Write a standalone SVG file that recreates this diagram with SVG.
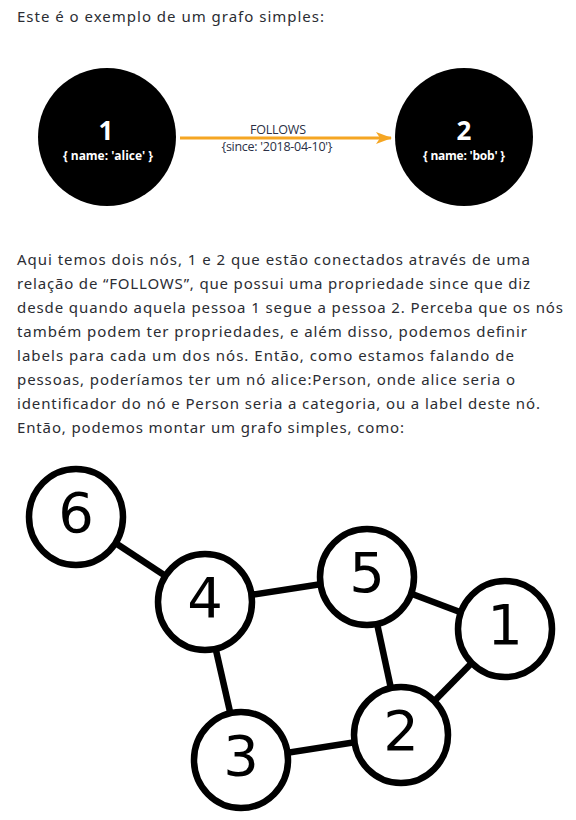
<svg xmlns="http://www.w3.org/2000/svg" width="576" height="820" viewBox="0 0 576 820">
<defs>
<style>
.p{font-family:"Noto Sans","Open Sans",sans-serif;font-size:15px;fill:#2b2d33;}
.bn{fill:#000;}
.bd{font-family:"Open Sans","Noto Sans",sans-serif;font-weight:bold;fill:#fff;text-anchor:middle;}
.lbl{font-family:"Open Sans","Noto Sans",sans-serif;fill:#2a2f45;text-anchor:middle;font-size:12.5px;}
.wn{fill:#fff;stroke:#000;stroke-width:6.5;}
.dg{font-family:"DejaVu Sans",sans-serif;font-size:56px;fill:#000;text-anchor:middle;}
.e{stroke:#000;stroke-width:6.5;}
</style>
<marker id="ah" viewBox="0 0 16 12" refX="15" refY="6" markerWidth="16" markerHeight="12" markerUnits="userSpaceOnUse" orient="auto">
<path d="M0,0 L16,6 L0,12 L4,6 Z" fill="#F5A623"/>
</marker>
</defs>
<rect width="576" height="820" fill="#fff"/>
<text class="p" x="17" y="22" textLength="307">Este é o exemplo de um grafo simples:</text>

<g id="connectors-top">
<line x1="180" y1="138" x2="391" y2="138" stroke="#F5A623" stroke-width="3" marker-end="url(#ah)"/>
<text class="lbl" x="278" y="134" textLength="56">FOLLOWS</text>
<text class="lbl" x="277" y="151" textLength="111">{since: '2018-04-10'}</text>
</g>
<g id="top-node-1">
<circle class="bn" cx="107" cy="137" r="69"/>
<text class="bd" x="106" y="140" font-size="26">1</text>
<text class="bd" x="108" y="160" font-size="12" textLength="90">{ name: 'alice' }</text>
</g>
<g id="top-node-2">
<circle class="bn" cx="464" cy="137" r="69"/>
<text class="bd" x="464" y="140" font-size="26">2</text>
<text class="bd" x="464" y="160" font-size="12" textLength="82">{ name: 'bob' }</text>
</g>

<g id="paragraph">
<text class="p" x="17" y="265" textLength="513">Aqui temos dois nós, 1 e 2 que estão conectados através de uma</text>
<text class="p" x="17" y="289" textLength="513">relação de “FOLLOWS”, que possui uma propriedade since que diz</text>
<text class="p" x="17" y="313" textLength="546">desde quando aquela pessoa 1 segue a pessoa 2. Perceba que os nós</text>
<text class="p" x="17" y="337" textLength="510">também podem ter propriedades, e além disso, podemos definir</text>
<text class="p" x="17" y="361" textLength="497">labels para cada um dos nós. Então, como estamos falando de</text>
<text class="p" x="17" y="385" textLength="498">pessoas, poderíamos ter um nó alice:Person, onde alice seria o</text>
<text class="p" x="17" y="409" textLength="523">identificador do nó e Person seria a categoria, ou a label deste nó.</text>
<text class="p" x="17" y="433" textLength="387">Então, podemos montar um grafo simples, como:</text>
</g>

<g id="connectors">
<line class="e" x1="76" y1="517" x2="205" y2="602"/>
<line class="e" x1="205" y1="602" x2="367" y2="577"/>
<line class="e" x1="367" y1="577" x2="505" y2="629"/>
<line class="e" x1="367" y1="577" x2="401" y2="735"/>
<line class="e" x1="505" y1="629" x2="401" y2="735"/>
<line class="e" x1="205" y1="602" x2="241" y2="760"/>
<line class="e" x1="241" y1="760" x2="401" y2="735"/>
</g>
<g id="node-6"><ellipse class="wn" cx="76" cy="517" rx="47" ry="48"/><text class="dg" x="76" y="532">6</text></g>
<g id="node-4"><ellipse class="wn" cx="205" cy="602" rx="47" ry="48"/><text class="dg" x="205" y="617">4</text></g>
<g id="node-5"><ellipse class="wn" cx="367" cy="577" rx="47" ry="48"/><text class="dg" x="367" y="592">5</text></g>
<g id="node-1"><ellipse class="wn" cx="505" cy="629" rx="47" ry="48"/><text class="dg" x="505" y="644">1</text></g>
<g id="node-2"><ellipse class="wn" cx="401" cy="735" rx="47" ry="48"/><text class="dg" x="401" y="750">2</text></g>
<g id="node-3"><ellipse class="wn" cx="241" cy="760" rx="47" ry="48"/><text class="dg" x="241" y="775">3</text></g>
</svg>
